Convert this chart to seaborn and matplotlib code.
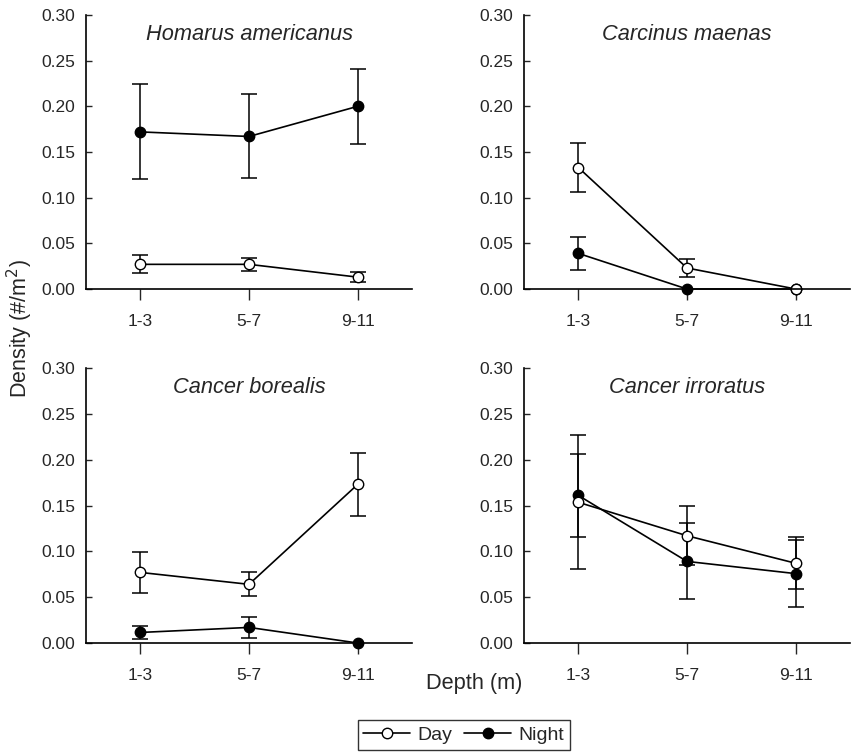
import numpy as np
import pandas as pd
import matplotlib
matplotlib.use("Agg")
import matplotlib.pyplot as plt
import seaborn as sns
from matplotlib.lines import Line2D

sns.set_style("ticks")
plt.rcParams['font.family'] = ['Liberation Sans', 'DejaVu Sans']

# ---- data ----
depths = ["1-3", "5-7", "9-11"]
species = ["Homarus americanus", "Carcinus maenas", "Cancer borealis", "Cancer irroratus"]

homarus_day = [0.027, 0.027, 0.013]
homarus_day_se = [0.0097, 0.0070, 0.0057]
homarus_night = [0.172, 0.167, 0.200]
homarus_night_se = [0.052, 0.046, 0.041]

carcinus_day = [0.133, 0.023, 0.0]
carcinus_day_se = [0.027, 0.0095, 0.0]
carcinus_night = [0.039, 0.0, 0.0]
carcinus_night_se = [0.018, 0.0, 0.0]

borealis_day = [0.077, 0.064, 0.173]
borealis_day_se = [0.022, 0.013, 0.034]
borealis_night = [0.0115, 0.017, 0.0]
borealis_night_se = [0.0073, 0.0117, 0.0]

irroratus_day = [0.1535, 0.117, 0.087]
irroratus_day_se = [0.073, 0.032, 0.0285]
irroratus_night = [0.161, 0.089, 0.0757]
irroratus_night_se = [0.0455, 0.0415, 0.0363]

yticks = [0.00, 0.05, 0.10, 0.15, 0.20, 0.25, 0.30]

panels = [
    (homarus_day, homarus_day_se, homarus_night, homarus_night_se),
    (carcinus_day, carcinus_day_se, carcinus_night, carcinus_night_se),
    (borealis_day, borealis_day_se, borealis_night, borealis_night_se),
    (irroratus_day, irroratus_day_se, irroratus_night, irroratus_night_se),
]

W, H = 851, 755
fig = plt.figure(figsize=(W / 100, H / 100), dpi=100)
boxes = [(86, 15, 412, 289), (524, 15, 850, 289), (86, 368, 412, 643), (524, 368, 850, 643)]

lw = 1.2
for (name, data, (l, t, r, b)) in zip(species, panels, boxes):
    ax = fig.add_axes([l / W, 1 - b / H, (r - l) / W, (b - t) / H])
    day, day_se, night, night_se = [np.asarray(a, float) for a in data]
    x = np.arange(len(depths))
    for vals, se, fc in [(night, night_se, "black"), (day, day_se, "white")]:
        m = se > 0
        ax.errorbar(x[m], vals[m], yerr=se[m], fmt="none", ecolor="black",
                    elinewidth=1.1, capsize=5.5, capthick=1.1, zorder=1.5)
        df = pd.DataFrame({"x": x, "y": vals})
        sns.lineplot(data=df, x="x", y="y", ax=ax, color="black", linewidth=lw,
                     marker="o", markersize=7.5, markerfacecolor=fc,
                     markeredgecolor="black", markeredgewidth=1.0, clip_on=False)
    ax.set_xlim(-0.5, 2.5)
    ax.set_ylim(0, 0.30)
    ax.set_xticks(x)
    ax.set_xticklabels(depths, fontsize=12.5)
    ax.set_yticks(yticks)
    ax.set_yticklabels([f"{v:.2f}" for v in yticks], fontsize=12.5)
    ax.tick_params(axis="y", direction="in", length=4, width=1.0, pad=8)
    ax.tick_params(axis="x", direction="out", length=8, width=1.0, pad=10)
    ax.set_xlabel("")
    ax.set_ylabel("")
    for s in ["top", "right"]:
        ax.spines[s].set_visible(False)
    for s in ["left", "bottom"]:
        ax.spines[s].set_linewidth(1.2)
        ax.spines[s].set_color("black")
    ax.text(0.5, 0.93, name, transform=ax.transAxes, ha="center", va="center",
            fontsize=15.7, style="italic")

fig.text(20 / W, 1 - 329 / H, "Density (#/m$^2$)", rotation=90, ha="center",
         va="center", fontsize=15.5)
fig.text(474 / W, 1 - 683 / H, "Depth (m)", ha="center", va="center", fontsize=15.7)

handles = [
    Line2D([], [], color="black", lw=lw, marker="o", markersize=7.5,
           markerfacecolor="white", markeredgecolor="black"),
    Line2D([], [], color="black", lw=lw, marker="o", markersize=7.5,
           markerfacecolor="black", markeredgecolor="black"),
]
leg = fig.legend(handles, ["Day", "Night"], loc="center", ncol=2,
                 bbox_to_anchor=(464 / W, 1 - 735 / H), fontsize=14,
                 frameon=True, fancybox=False, edgecolor="black",
                 handlelength=2.4, handletextpad=0.4, columnspacing=0.6,
                 borderpad=0.3)
leg.get_frame().set_linewidth(1.0)

fig.savefig("out.png", dpi=100)
